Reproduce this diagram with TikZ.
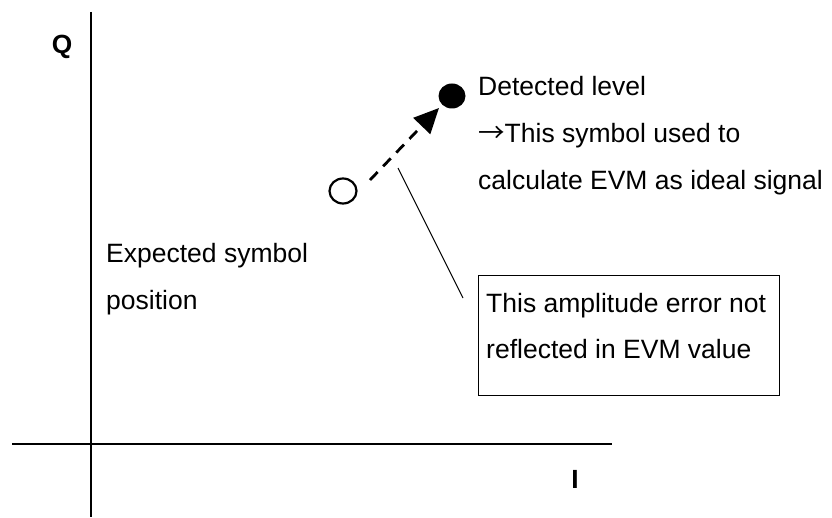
\documentclass[tikz,border=0pt]{standalone}
\usepackage{fontspec}
\setmainfont{Liberation Sans}
\newfontfamily\cjkarrow{Noto Sans CJK JP}
\usetikzlibrary{arrows.meta,shapes.geometric}
\begin{document}
\begin{tikzpicture}[x=1pt,y=-1pt,
  lbl/.style={anchor=base west,inner sep=0pt,font=\fontsize{26.5}{47}\selectfont},
  axislbl/.style={inner sep=0pt,font=\fontsize{26.3}{30}\selectfont\bfseries},
  axis/.style={line width=1.6pt},
  sym/.style={ellipse,minimum width=27pt,minimum height=25pt,inner sep=0pt,line width=2.2pt}]
\useasboundingbox (0,0) rectangle (832,518);
% axes
\coordinate (qtop) at (91,12);
\coordinate (qbot) at (91,517);
\coordinate (ileft) at (12,444);
\coordinate (iright) at (612,444);
\draw[axis] (qtop) -- (qbot);
\draw[axis] (ileft) -- (iright);
\node[axislbl] (Q) at (62,47) {Q};
\node[axislbl] (I) at (575,479) {I};
% symbols
\node[sym,draw] (exp) at (343,191) {};
\node[sym,fill] (det) at (452,96) {};
\coordinate (as) at (370,180);
\coordinate (at) at (439,108);
\draw[line width=2.8pt,dash pattern=on 11pt off 8pt,-{Triangle[length=25pt,width=23pt]}] (as) -- (at);
% texts
\node[lbl] (t1) at (478,96) {Detected level};
\node[lbl] (t2) at (478,143) {{\cjkarrow\char"2192}This symbol used to};
\node[lbl] (t3) at (478,190) {calculate EVM as ideal signal};
\node[lbl] (e1) at (106,263) {Expected symbol};
\node[lbl] (e2) at (106,309) {position};
% box
\node[draw,line width=1.2pt,anchor=north west,minimum width=301pt,minimum height=120pt,inner sep=0pt] (box) at (478,275) {};
\node[lbl] (b1) at (486,313) {This amplitude error not};
\node[lbl] (b2) at (486,359) {reflected in EVM value};
% leader
\coordinate (ls) at (398,168);
\coordinate (le) at (463,298);
\draw[line width=1.1pt] (ls) -- (le);
\end{tikzpicture}
\end{document}
